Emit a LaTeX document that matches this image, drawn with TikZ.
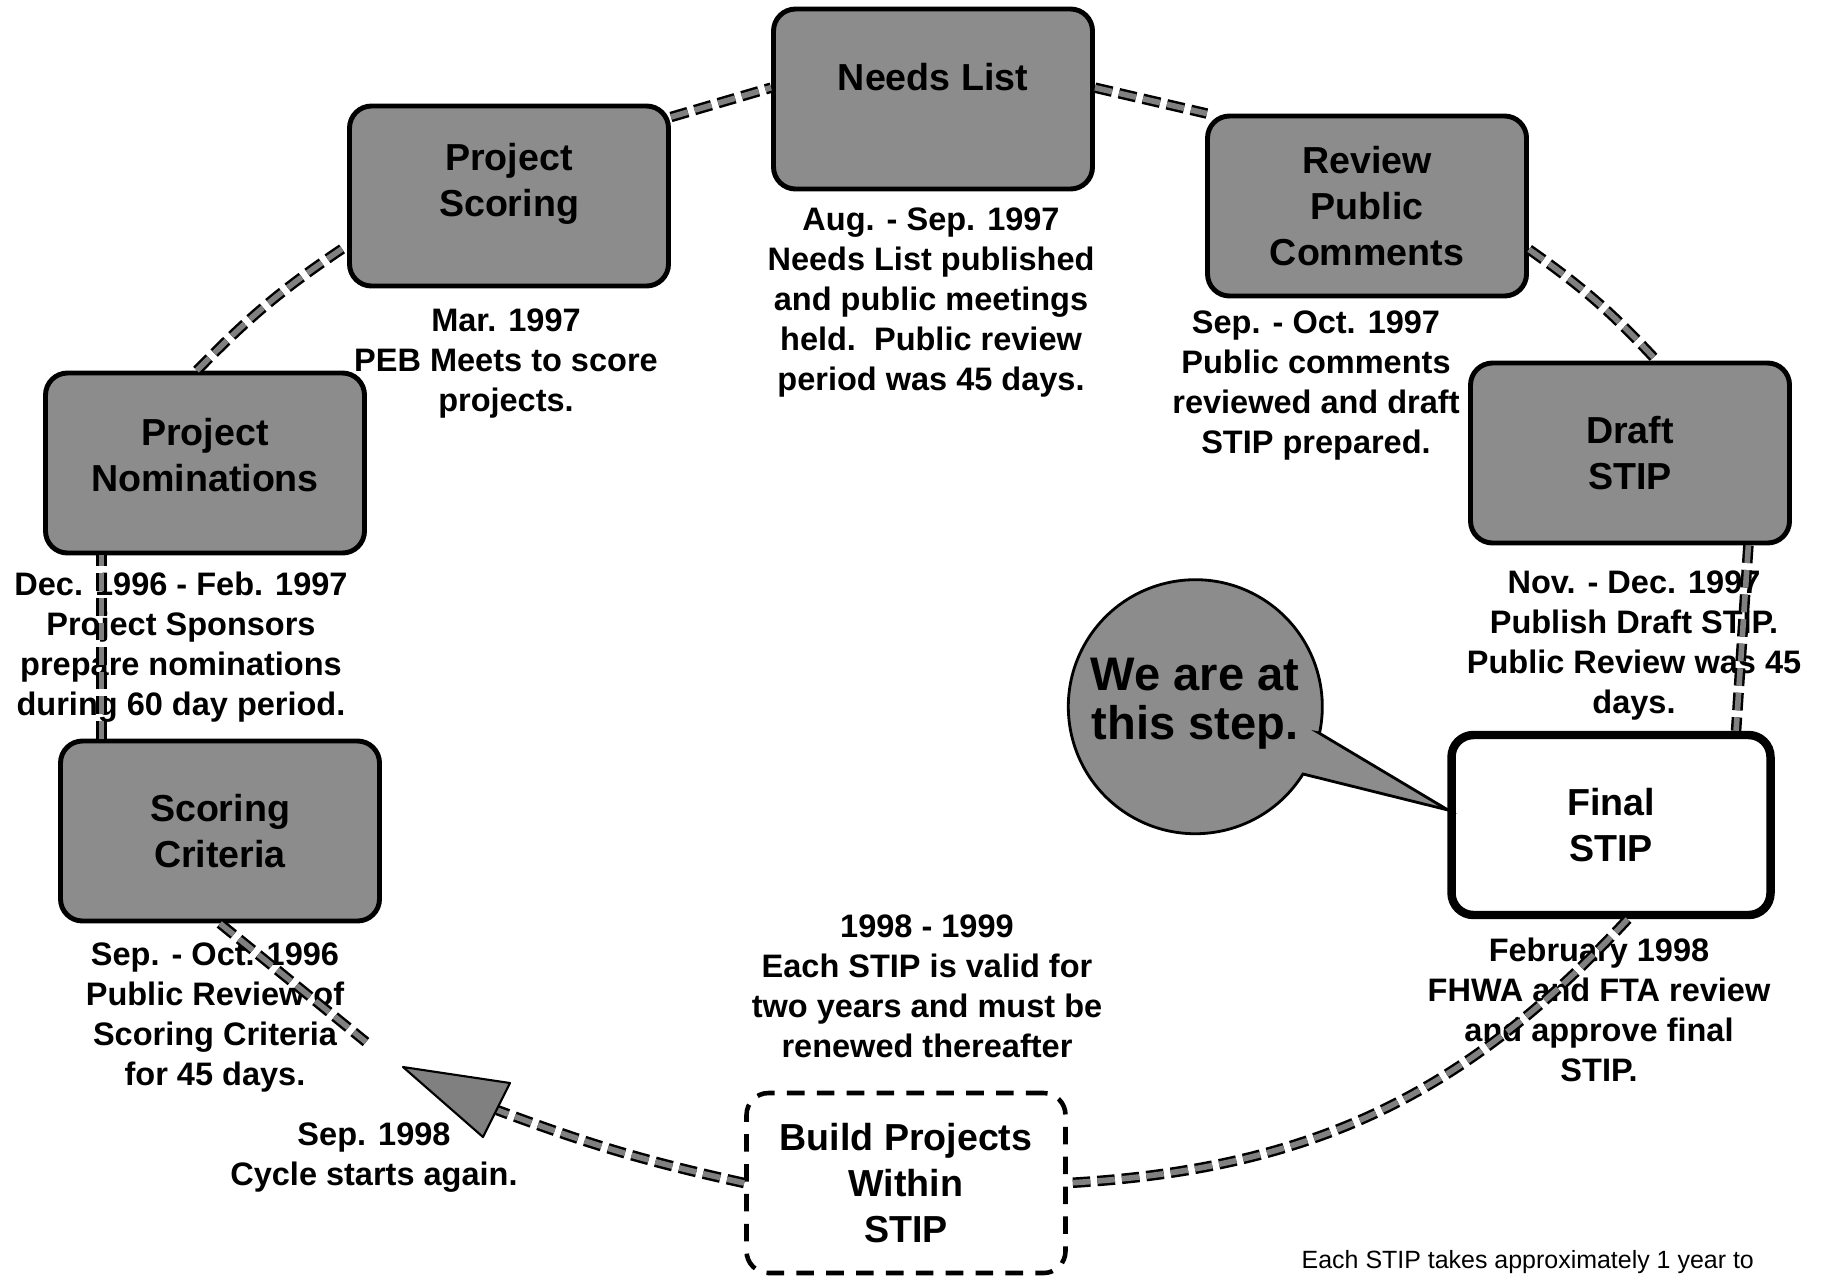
\documentclass[tikz,border=0pt]{standalone}
\usepackage{fontspec}
\setmainfont{Liberation Sans}
\usetikzlibrary{calc}

\begin{document}
\begin{tikzpicture}[x=0.1mm, y=-0.1mm,
    stage/.style={draw=black, line width=1.4pt, fill=black!45, rounded corners=2.2mm,
      minimum width=31.9mm, minimum height=18mm, align=center,
      font=\fontsize{10.7}{13.1}\selectfont\bfseries},
    info/.style={anchor=north, align=center, inner sep=0pt,
      font=\fontsize{9.25}{11.4}\selectfont\bfseries},
    link/.style={draw=black, line width=0.7pt, double=black!50, double distance=1.6pt,
      dash pattern=on 5pt off 2pt}]
  \fill[white] (0,0) rectangle (1821,1280);

  \node[stage, text height=23pt, text depth=28pt, inner ysep=0pt] (needs) at (933,99) {Needs List};
  \node[stage, text depth=9pt] (scoring) at (509,196) {Project\\Scoring};
  \node[stage] (review) at (1367,206) {Review\\Public\\Comments};
  \node[stage, text depth=4.6pt] (nomin) at (205,463) {Project\\Nominations};
  \node[stage] (draft) at (1630,453) {Draft\\STIP};
  \node[stage] (crit) at (220,831) {Scoring\\Criteria};
  \node[stage, fill=white, line width=2.4pt] (final) at (1611,825) {Final\\STIP};
  \node[stage, fill=white, line width=1.3pt, dash pattern=on 5pt off 3.5pt] (build) at (906,1183) {Build Projects\\Within\\STIP};

  \node[info] (needs-info) at (931,207) {Aug. - Sep. 1997\\Needs List published\\and public meetings\\held.\ \ Public review\\period was 45 days.};
  \node[info] (scoring-info) at (506,308) {Mar. 1997\\PEB Meets to score\\projects.};
  \node[info] (review-info) at (1316,310) {Sep. - Oct. 1997\\Public comments\\reviewed and draft\\STIP prepared.};
  \node[info] (nomin-info) at (181,571) {Dec. 1996 - Feb. 1997\\Project Sponsors\\prepare nominations\\during 60 day period.};
  \node[info] (draft-info) at (1634,570) {Nov. - Dec. 1997\\Publish Draft STIP.\\Public Review was 45\\days.};
  \node[info] (crit-info) at (215,942) {Sep. - Oct. 1996\\Public Review of\\Scoring Criteria\\for 45 days.};
  \node[info] (build-info) at (927,914) {1998 - 1999\\Each STIP is valid for\\two years and must be\\renewed thereafter};
  \node[info] (final-info) at (1599,937) {February 1998\\FHWA and FTA review\\and approve final\\STIP.};
  \node[info] (again-info) at (374,1122) {Sep. 1998\\Cycle starts again.};
  \node[anchor=base west, inner sep=0pt, font=\fontsize{7.1}{8.5}\selectfont] (remark) at (1301,1268) {Each STIP takes approximately 1 year to};

  \draw[line width=0.8pt, fill=black!45] (1319,733) -- (1448,810) -- (1303,774) arc[start angle=32, end angle=372, radius=127] -- cycle;
  \node[align=center, font=\fontsize{13.4}{14}\selectfont\bfseries] (here) at (1195,704) {We are at\\this step.};

  \coordinate (head) at (497,1110);
  \coordinate (tip) at (403,1067);
  \coordinate (crit-tail) at (366,1042);

  \draw[link] (crit.142) -- (crit.142 |- nomin.south);
  \draw[link] (nomin.95) to[bend left=6] (scoring.197);
  \draw[link] (scoring.26) -- (needs.176);
  \draw[link] (needs.4) -- (review.150);
  \draw[link] (review.-15) to[bend left=6] (draft.74);
  \draw[link] (draft.-38) -- (final.37);
  \draw[link] (final.-80) to[bend left=22] (build.east);
  \draw[link] (build.west) to[bend left=4] (head);
  \draw[link] (crit.south) -- (crit-tail);
  \draw[line width=0.6pt, line join=round, fill=black!50] (tip) -- (510,1083) -- (483,1137) -- cycle;
\end{tikzpicture}
\end{document}
